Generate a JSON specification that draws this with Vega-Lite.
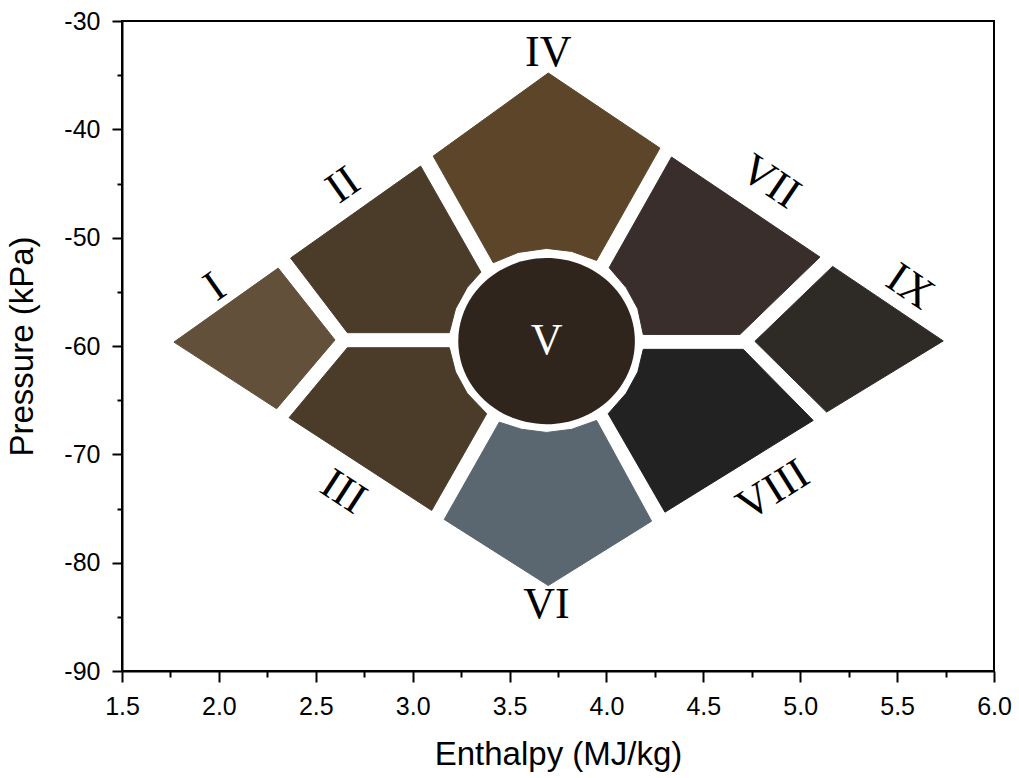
{
  "$schema": "https://vega.github.io/schema/vega-lite/v6.json",
  "autosize": {"type": "none"},
  "padding": {"left": 122, "top": 21, "right": 25, "bottom": 107},
  "width": 872,
  "height": 650,
  "background": "white",
  "config": {
    "view": {"stroke": "black", "strokeWidth": 2},
    "axis": {
      "grid": false,
      "domainColor": "black",
      "domainWidth": 2,
      "tickColor": "black",
      "tickWidth": 2,
      "labelColor": "black",
      "labelFont": "Liberation Sans",
      "labelFontSize": 25,
      "titleFont": "Liberation Sans",
      "titleFontSize": 33,
      "titleFontWeight": "normal",
      "titleColor": "black",
      "labelOverlap": false,
      "labelFlush": false
    }
  },
  "datasets": {
    "polygons": [
      {"region": "I", "ord": 1, "h": 1.768, "p": -59.64},
      {"region": "I", "ord": 2, "h": 2.306, "p": -52.81},
      {"region": "I", "ord": 3, "h": 2.599, "p": -59.44},
      {"region": "I", "ord": 4, "h": 2.298, "p": -65.79},
      {"region": "II", "ord": 1, "h": 2.370, "p": -51.88},
      {"region": "II", "ord": 2, "h": 3.041, "p": -43.39},
      {"region": "II", "ord": 3, "h": 3.352, "p": -53.18},
      {"region": "II", "ord": 4, "h": 3.281, "p": -54.61},
      {"region": "II", "ord": 5, "h": 3.221, "p": -56.57},
      {"region": "II", "ord": 6, "h": 3.189, "p": -58.77},
      {"region": "II", "ord": 7, "h": 2.663, "p": -58.77},
      {"region": "III", "ord": 1, "h": 2.663, "p": -60.16},
      {"region": "III", "ord": 2, "h": 3.189, "p": -60.16},
      {"region": "III", "ord": 3, "h": 3.221, "p": -62.39},
      {"region": "III", "ord": 4, "h": 3.281, "p": -64.36},
      {"region": "III", "ord": 5, "h": 3.382, "p": -66.25},
      {"region": "III", "ord": 6, "h": 3.098, "p": -75.18},
      {"region": "III", "ord": 7, "h": 2.362, "p": -66.62},
      {"region": "IV", "ord": 1, "h": 3.106, "p": -42.47},
      {"region": "IV", "ord": 2, "h": 3.700, "p": -34.80},
      {"region": "IV", "ord": 3, "h": 4.276, "p": -41.73},
      {"region": "IV", "ord": 4, "h": 3.949, "p": -52.10},
      {"region": "IV", "ord": 5, "h": 3.821, "p": -51.27},
      {"region": "IV", "ord": 6, "h": 3.691, "p": -50.99},
      {"region": "IV", "ord": 7, "h": 3.545, "p": -51.36},
      {"region": "IV", "ord": 8, "h": 3.416, "p": -52.31},
      {"region": "VI", "ord": 1, "h": 3.447, "p": -67.03},
      {"region": "VI", "ord": 2, "h": 3.562, "p": -67.69},
      {"region": "VI", "ord": 3, "h": 3.691, "p": -67.98},
      {"region": "VI", "ord": 4, "h": 3.821, "p": -67.69},
      {"region": "VI", "ord": 5, "h": 3.949, "p": -66.87},
      {"region": "VI", "ord": 6, "h": 4.233, "p": -76.17},
      {"region": "VI", "ord": 7, "h": 3.700, "p": -82.11},
      {"region": "VI", "ord": 8, "h": 3.163, "p": -76.01},
      {"region": "VII", "ord": 1, "h": 4.336, "p": -42.56},
      {"region": "VII", "ord": 2, "h": 5.102, "p": -51.79},
      {"region": "VII", "ord": 3, "h": 4.689, "p": -58.93},
      {"region": "VII", "ord": 4, "h": 4.190, "p": -58.93},
      {"region": "VII", "ord": 5, "h": 4.162, "p": -56.57},
      {"region": "VII", "ord": 6, "h": 4.102, "p": -54.61},
      {"region": "VII", "ord": 7, "h": 4.014, "p": -52.77},
      {"region": "VIII", "ord": 1, "h": 4.190, "p": -60.31},
      {"region": "VIII", "ord": 2, "h": 4.706, "p": -60.31},
      {"region": "VIII", "ord": 3, "h": 5.067, "p": -66.87},
      {"region": "VIII", "ord": 4, "h": 4.302, "p": -75.34},
      {"region": "VIII", "ord": 5, "h": 4.009, "p": -66.25},
      {"region": "VIII", "ord": 6, "h": 4.102, "p": -64.36},
      {"region": "VIII", "ord": 7, "h": 4.162, "p": -62.39},
      {"region": "IX", "ord": 1, "h": 5.167, "p": -52.65},
      {"region": "IX", "ord": 2, "h": 5.738, "p": -59.53},
      {"region": "IX", "ord": 3, "h": 5.136, "p": -66.10},
      {"region": "IX", "ord": 4, "h": 4.766, "p": -59.57}
    ],
    "center": [{"region": "V", "h": 3.691, "p": -59.55}],
    "labels": [
      {"label": "I", "h": 1.980, "p": -54.56},
      {"label": "II", "h": 2.642, "p": -45.17},
      {"label": "III", "h": 2.642, "p": -73.49},
      {"label": "IV", "h": 3.700, "p": -32.98},
      {"label": "V", "h": 3.691, "p": -59.50},
      {"label": "VI", "h": 3.691, "p": -83.95},
      {"label": "VII", "h": 4.844, "p": -44.87},
      {"label": "VIII", "h": 4.861, "p": -73.33},
      {"label": "IX", "h": 5.566, "p": -54.56}
    ]
  },
  "encoding": {
    "x": {
      "field": "h", "type": "quantitative",
      "scale": {"domain": [1.5, 6.0], "nice": false, "zero": false},
      "axis": {
        "title": "Enthalpy (MJ/kg)",
        "values": [1.5, 1.75, 2.0, 2.25, 2.5, 2.75, 3.0, 3.25, 3.5, 3.75, 4.0, 4.25, 4.5, 4.75, 5.0, 5.25, 5.5, 5.75, 6.0],
        "labelExpr": "datum.value % 0.5 === 0 ? format(datum.value, '.1f') : ''",
        "tickSize": {"condition": {"test": "datum.value % 0.5 !== 0", "value": 6}, "value": 11},
        "labelPadding": 12,
        "titlePadding": 19
      }
    },
    "y": {
      "field": "p", "type": "quantitative",
      "scale": {"domain": [-90, -30], "nice": false, "zero": false},
      "axis": {
        "title": "Pressure (kPa)",
        "values": [-90, -85, -80, -75, -70, -65, -60, -55, -50, -45, -40, -35, -30],
        "labelExpr": "datum.value % 10 === 0 ? '' + datum.value : ''",
        "tickSize": {"condition": {"test": "datum.value % 10 !== 0", "value": 5}, "value": 10},
        "labelPadding": 12,
        "titlePadding": 24
      }
    }
  },
  "layer": [
    {
      "data": {"name": "polygons"},
      "mark": {"type": "line", "interpolate": "linear-closed", "strokeWidth": 1},
      "encoding": {
        "order": {"field": "ord", "type": "quantitative"},
        "fill": {
          "field": "region", "type": "nominal", "legend": null,
          "scale": {
            "domain": ["I", "II", "III", "IV", "VI", "VII", "VIII", "IX"],
            "range": ["#62503a", "#4b3c2a", "#4b3c2a", "#5d452a", "#5a6770", "#392e2c", "#222222", "#2e2a25"]
          }
        },
        "stroke": {
          "field": "region", "type": "nominal", "legend": null,
          "scale": {
            "domain": ["I", "II", "III", "IV", "VI", "VII", "VIII", "IX"],
            "range": ["#62503a", "#4b3c2a", "#4b3c2a", "#5d452a", "#5a6770", "#392e2c", "#222222", "#2e2a25"]
          }
        }
      }
    },
    {
      "data": {"name": "center"},
      "mark": {
        "type": "point",
        "shape": "M -1 0 A 1 0.94 0 1 0 1 0 A 1 0.94 0 1 0 -1 0 Z",
        "size": 31190,
        "filled": true,
        "color": "#30251d",
        "opacity": 1,
        "strokeWidth": 0
      },
      "encoding": {}
    },
    {
      "data": {"name": "labels"},
      "transform": [{"filter": {"field": "label", "oneOf": ["IV", "VI"]}}],
      "mark": {"type": "text", "font": "Liberation Serif", "fontSize": 44, "align": "center", "baseline": "middle", "color": "black"},
      "encoding": {"text": {"field": "label"}}
    },
    {
      "data": {"name": "labels"},
      "transform": [{"filter": {"field": "label", "equal": "V"}}],
      "mark": {"type": "text", "font": "Liberation Serif", "fontSize": 44, "align": "center", "baseline": "middle", "color": "white"},
      "encoding": {"text": {"field": "label"}}
    },
    {
      "data": {"name": "labels"},
      "transform": [{"filter": {"field": "label", "oneOf": ["I", "II"]}}],
      "mark": {"type": "text", "font": "Liberation Serif", "fontSize": 44, "align": "center", "baseline": "middle", "color": "black", "angle": 325},
      "encoding": {"text": {"field": "label"}}
    },
    {
      "data": {"name": "labels"},
      "transform": [{"filter": {"field": "label", "oneOf": ["VII", "IX"]}}],
      "mark": {"type": "text", "font": "Liberation Serif", "fontSize": 44, "align": "center", "baseline": "middle", "color": "black", "angle": 34},
      "encoding": {"text": {"field": "label"}}
    },
    {
      "data": {"name": "labels"},
      "transform": [{"filter": {"field": "label", "equal": "III"}}],
      "mark": {"type": "text", "font": "Liberation Serif", "fontSize": 44, "align": "center", "baseline": "middle", "color": "black", "angle": 33},
      "encoding": {"text": {"field": "label"}}
    },
    {
      "data": {"name": "labels"},
      "transform": [{"filter": {"field": "label", "equal": "VIII"}}],
      "mark": {"type": "text", "font": "Liberation Serif", "fontSize": 44, "align": "center", "baseline": "middle", "color": "black", "angle": 328},
      "encoding": {"text": {"field": "label"}}
    }
  ]
}
